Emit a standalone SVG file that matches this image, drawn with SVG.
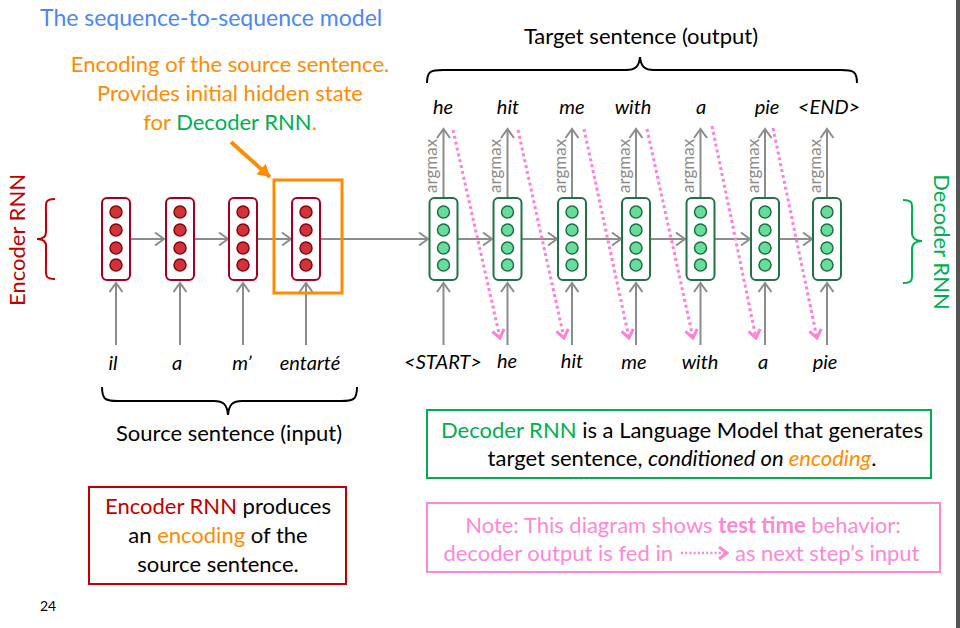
<svg xmlns="http://www.w3.org/2000/svg" width="960" height="628" viewBox="0 0 960 628">
<defs>
<style>
text{font-family:Lato,"Open Sans","Liberation Sans",sans-serif;}
.t20{font-size:22px;fill:#000;}
.it{font-style:italic;font-size:20px;fill:#000;}
.argmax{font-size:17px;fill:#8c8c8c;}
.encRect{fill:#fff;stroke:#a50021;stroke-width:2;}
.encC{fill:#d13438;stroke:#8b0012;stroke-width:1.5;}
.decRect{fill:#fff;stroke:#217346;stroke-width:2;}
.decC{fill:#66dd99;stroke:#1e7145;stroke-width:1.5;}
.ga{stroke:#8c8c8c;stroke-width:2;fill:none;marker-end:url(#gh);}
.pa{stroke:#ff80d8;stroke-width:3;stroke-dasharray:3 3;fill:none;marker-end:url(#ph);}
.brace{fill:none;stroke:#000;stroke-width:2;}
</style>
<marker id="gh" viewBox="-11 -8 13 16" markerWidth="13" markerHeight="16" refX="0" refY="0" orient="auto" markerUnits="userSpaceOnUse">
<path d="M-9,-6.5 L0,0 L-9,6.5" fill="none" stroke="#8c8c8c" stroke-width="2"/>
</marker>
<marker id="ph" viewBox="-11 -8 13 16" markerWidth="13" markerHeight="16" refX="0" refY="0" orient="auto" markerUnits="userSpaceOnUse">
<path d="M-8,-6 L0,0 L-8,6" fill="none" stroke="#ff80d8" stroke-width="3"/>
</marker>
<marker id="oh" viewBox="-12 -8 14 16" markerWidth="14" markerHeight="16" refX="0" refY="0" orient="auto" markerUnits="userSpaceOnUse">
<path d="M-12,-7 L0,0 L-12,7 Z" fill="#ff8c00"/>
</marker>
<g id="cellEnc">
<rect x="-14" y="-41" width="28" height="82" rx="5" class="encRect"/>
<circle cx="0" cy="-27" r="6" class="encC"/>
<circle cx="0" cy="-9" r="6" class="encC"/>
<circle cx="0" cy="9" r="6" class="encC"/>
<circle cx="0" cy="26" r="6" class="encC"/>
</g>
<g id="cellDec">
<rect x="-14" y="-41" width="28" height="82" rx="5" class="decRect"/>
<circle cx="0" cy="-27" r="6" class="decC"/>
<circle cx="0" cy="-9" r="6" class="decC"/>
<circle cx="0" cy="9" r="6" class="decC"/>
<circle cx="0" cy="26" r="6" class="decC"/>
</g>
</defs>
<rect width="960" height="628" fill="#fff"/>
<rect x="956" y="0" width="4" height="628" fill="#555"/>

<g id="title"><text x="40" y="26" font-size="23" fill="#4d88f0">The sequence-to-sequence model</text></g>

<g id="encodingNote" text-anchor="middle">
<text x="230" y="72" fill="#ff8c00" font-size="22">Encoding of the source sentence.</text>
<text x="230" y="101" fill="#ff8c00" font-size="22">Provides initial hidden state</text>
<text x="230" y="130" fill="#ff8c00" font-size="22">for <tspan fill="#00b050">Decoder RNN</tspan>.</text>
</g>

<g id="connectors">
<line x1="231" y1="142" x2="270" y2="177" stroke="#ff8c00" stroke-width="4" marker-end="url(#oh)"/>
<line x1="130" y1="239" x2="164" y2="239" class="ga"/>
<line x1="194" y1="239" x2="228" y2="239" class="ga"/>
<line x1="257" y1="239" x2="291" y2="239" class="ga"/>
<line x1="320" y1="239" x2="428" y2="239" class="ga"/>
<line x1="458" y1="239" x2="492" y2="239" class="ga"/>
<line x1="522" y1="239" x2="557" y2="239" class="ga"/>
<line x1="586" y1="239" x2="621" y2="239" class="ga"/>
<line x1="650" y1="239" x2="685" y2="239" class="ga"/>
<line x1="715" y1="239" x2="750" y2="239" class="ga"/>
<line x1="779" y1="239" x2="812" y2="239" class="ga"/>
<line x1="116" y1="345" x2="116" y2="283" class="ga"/>
<line x1="180" y1="345" x2="180" y2="283" class="ga"/>
<line x1="243" y1="345" x2="243" y2="283" class="ga"/>
<line x1="306" y1="345" x2="306" y2="283" class="ga"/>
<line x1="443.5" y1="345" x2="443.5" y2="283" class="ga"/>
<line x1="507.5" y1="345" x2="507.5" y2="283" class="ga"/>
<line x1="572" y1="345" x2="572" y2="283" class="ga"/>
<line x1="636" y1="345" x2="636" y2="283" class="ga"/>
<line x1="700.5" y1="345" x2="700.5" y2="283" class="ga"/>
<line x1="765" y1="345" x2="765" y2="283" class="ga"/>
<line x1="827" y1="345" x2="827" y2="283" class="ga"/>
<line x1="443.5" y1="197" x2="443.5" y2="129" class="ga"/>
<line x1="507.5" y1="197" x2="507.5" y2="129" class="ga"/>
<line x1="572" y1="197" x2="572" y2="129" class="ga"/>
<line x1="636" y1="197" x2="636" y2="129" class="ga"/>
<line x1="700.5" y1="197" x2="700.5" y2="129" class="ga"/>
<line x1="765" y1="197" x2="765" y2="129" class="ga"/>
<line x1="827" y1="197" x2="827" y2="129" class="ga"/>
<line x1="453" y1="130" x2="500" y2="338" class="pa"/>
<line x1="518" y1="130" x2="564" y2="338" class="pa"/>
<line x1="584" y1="129" x2="629" y2="338" class="pa"/>
<line x1="647" y1="129" x2="693" y2="338" class="pa"/>
<line x1="712" y1="126" x2="756" y2="338" class="pa"/>
<line x1="773" y1="128" x2="817" y2="338" class="pa"/>
</g>

<g id="encoderBox"><rect x="274" y="180" width="68" height="113" fill="none" stroke="#ff8c00" stroke-width="3"/></g>

<g id="enc1"><use href="#cellEnc" x="116" y="239"/></g>
<g id="enc2"><use href="#cellEnc" x="180" y="239"/></g>
<g id="enc3"><use href="#cellEnc" x="243" y="239"/></g>
<g id="enc4"><use href="#cellEnc" x="306" y="239"/></g>

<g id="dec1"><use href="#cellDec" x="443.5" y="239"/></g>
<g id="dec2"><use href="#cellDec" x="507.5" y="239"/></g>
<g id="dec3"><use href="#cellDec" x="572" y="239"/></g>
<g id="dec4"><use href="#cellDec" x="636" y="239"/></g>
<g id="dec5"><use href="#cellDec" x="700.5" y="239"/></g>
<g id="dec6"><use href="#cellDec" x="765" y="239"/></g>
<g id="dec7"><use href="#cellDec" x="827" y="239"/></g>

<g id="argmaxLabels">
<text class="argmax" transform="translate(437,193) rotate(-90)">argmax</text>
<text class="argmax" transform="translate(501,193) rotate(-90)">argmax</text>
<text class="argmax" transform="translate(565.5,193) rotate(-90)">argmax</text>
<text class="argmax" transform="translate(629.5,193) rotate(-90)">argmax</text>
<text class="argmax" transform="translate(694,193) rotate(-90)">argmax</text>
<text class="argmax" transform="translate(758.5,193) rotate(-90)">argmax</text>
<text class="argmax" transform="translate(820.5,193) rotate(-90)">argmax</text>
</g>

<g id="outputWords" text-anchor="middle">
<text class="it" x="443" y="114">he</text>
<text class="it" x="508" y="114">hit</text>
<text class="it" x="572" y="114">me</text>
<text class="it" x="633" y="114">with</text>
<text class="it" x="701" y="114">a</text>
<text class="it" x="767" y="114">pie</text>
<text class="it" x="829" y="114">&lt;END&gt;</text>
</g>

<g id="inputWords" text-anchor="middle">
<text class="it" x="113" y="370">il</text>
<text class="it" x="177" y="370">a</text>
<text class="it" x="242" y="370">m’</text>
<text class="it" x="310" y="370">entarté</text>
<text class="it" x="443" y="369">&lt;START&gt;</text>
<text class="it" x="507" y="368">he</text>
<text class="it" x="572" y="368">hit</text>
<text class="it" x="634" y="369">me</text>
<text class="it" x="700" y="369">with</text>
<text class="it" x="763" y="369">a</text>
<text class="it" x="825" y="369">pie</text>
</g>

<g id="encoderLabel">
<path d="M55,199 C44,199 46,203 46,215 L46,232 C46,237 42,239 37,239 C42,239 46,241 46,246 L46,263 C46,275 44,279 55,279" fill="none" stroke="#c00000" stroke-width="2"/>
<text transform="translate(25,240) rotate(-90)" text-anchor="middle" font-size="22" fill="#c00000">Encoder RNN</text>
</g>

<g id="decoderLabel">
<path d="M903,200 C914,200 912,204 912,216 L912,233 C912,238 916,241 922,241 C916,241 912,244 912,249 L912,266 C912,279 914,283 903,283" fill="none" stroke="#00b050" stroke-width="2"/>
<text transform="translate(934,242) rotate(90)" text-anchor="middle" font-size="22" fill="#00b050">Decoder RNN</text>
</g>

<g id="sourceBrace">
<path class="brace" d="M102,387 C102,400 106,401 118,401 L214,401 C223,401 227,404 228,415 C229,404 233,401 242,401 L341,401 C353,401 357,400 357,387"/>
<text class="t20" x="229" y="441" text-anchor="middle">Source sentence (input)</text>
</g>

<g id="targetBrace">
<path class="brace" d="M427,83 C427,71 431,70 443,70 L626,70 C635,70 639,67 640,57 C641,67 645,70 654,70 L841,70 C853,70 857,71 857,83"/>
<text class="t20" x="641" y="44" text-anchor="middle">Target sentence (output)</text>
</g>

<g id="decoderNote">
<rect x="427" y="410" width="504" height="68" fill="#fff" stroke="#00b050" stroke-width="2"/>
<text class="t20" x="682" y="438" text-anchor="middle"><tspan fill="#00b050">Decoder RNN</tspan> is a Language Model that generates</text>
<text class="t20" x="682" y="466" text-anchor="middle">target sentence, <tspan font-style="italic">conditioned on </tspan><tspan font-style="italic" fill="#ff8c00">encoding</tspan>.</text>
</g>

<g id="encoderNote">
<rect x="89" y="487" width="257" height="97" fill="#fff" stroke="#c00000" stroke-width="2"/>
<text class="t20" x="218" y="514" text-anchor="middle"><tspan fill="#c00000">Encoder RNN</tspan> produces</text>
<text class="t20" x="218" y="543" text-anchor="middle">an <tspan fill="#ff8c00">encoding</tspan> of the</text>
<text class="t20" x="218" y="572" text-anchor="middle">source sentence.</text>
</g>

<g id="testTimeNote">
<rect x="427" y="503" width="513" height="69" fill="#fff" stroke="#ff88d5" stroke-width="2"/>
<text x="683" y="533" text-anchor="middle" font-size="22" fill="#ff88d5">Note: This diagram shows <tspan font-weight="bold">test time</tspan> behavior:</text>
<text x="673" y="561" text-anchor="end" font-size="22" fill="#ff88d5">decoder output is fed in</text>
<line x1="681" y1="553" x2="725" y2="553" stroke="#ff88d5" stroke-width="2.5" stroke-dasharray="2 2.2"/>
<path d="M719,547 L727,553 L719,559" fill="none" stroke="#ff88d5" stroke-width="3"/>
<text x="735" y="561" font-size="22" fill="#ff88d5">as next step’s input</text>
</g>

<g id="pageNum"><text x="40" y="611" font-size="14" fill="#000">24</text></g>
</svg>
